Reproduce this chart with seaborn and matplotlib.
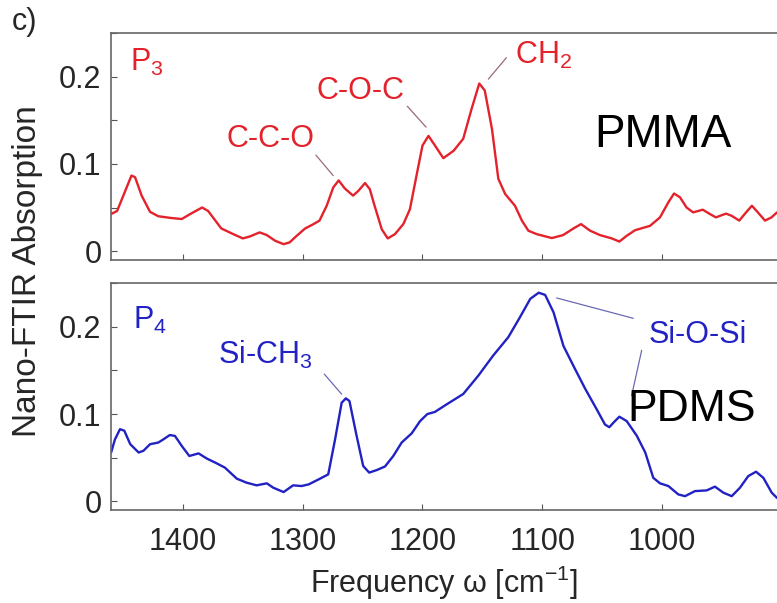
import matplotlib
matplotlib.use("Agg")
import matplotlib.pyplot as plt
import seaborn as sns
from matplotlib.ticker import MultipleLocator, FixedLocator

# PMMA spectrum (top panel, P3)
pmma_freq = [1460, 1455, 1443, 1440, 1434.5, 1427.5, 1420.6, 1410, 1401, 1394, 1384, 1379,
             1368, 1358, 1350, 1344, 1336, 1330, 1323, 1316, 1311, 1305, 1298, 1291, 1286,
             1280, 1274.5, 1270, 1265, 1258, 1253.6, 1248, 1244, 1240, 1234, 1229, 1223,
             1216, 1210.5, 1205, 1200, 1195, 1189.6, 1182.6, 1174, 1166, 1159, 1152.6, 1148,
             1142, 1136.7, 1131, 1122.8, 1117, 1111.6, 1104.6, 1092, 1082.6, 1074, 1067.6,
             1060, 1051.8, 1042, 1035.6, 1029.5, 1022.5, 1010, 1001.7, 994.7, 990, 985,
             979.5, 974, 966, 960, 955, 946.6, 942, 935.5, 931, 925, 921, 914, 908.6, 904]
pmma_abs = [0.0425, 0.046, 0.0866, 0.0847, 0.0636, 0.045, 0.040, 0.038, 0.0368, 0.0425, 0.050, 0.046,
            0.026, 0.0195, 0.0146, 0.0169, 0.0215, 0.0184, 0.0119, 0.008, 0.010, 0.0176, 0.026, 0.031, 0.035,
            0.052, 0.073, 0.081, 0.072, 0.0636, 0.069, 0.078, 0.071, 0.052, 0.025, 0.0146, 0.0195,
            0.031, 0.048, 0.0866, 0.121, 0.132, 0.121, 0.1065, 0.115, 0.1287, 0.163, 0.192, 0.184,
            0.140, 0.083, 0.0655, 0.052, 0.035, 0.0234, 0.0195, 0.015, 0.0184, 0.026, 0.031,
            0.0234, 0.0184, 0.0146, 0.011, 0.0176, 0.024, 0.029, 0.0387, 0.056, 0.066, 0.0617,
            0.050, 0.0444, 0.0475, 0.0425, 0.0387, 0.043, 0.0406, 0.035, 0.0425, 0.052, 0.046, 0.035, 0.0387, 0.0444]

# PDMS spectrum (bottom panel, P4)
pdms_freq = [1460, 1456.8, 1452.6, 1449, 1444, 1437, 1433, 1427.5, 1420.6, 1416.4, 1411, 1406.7,
             1401, 1394.7, 1387, 1380, 1373, 1365, 1355, 1347, 1338.5, 1330, 1324.6, 1316, 1308,
             1301, 1295, 1285.6, 1278.7, 1273, 1267.5, 1264, 1261, 1255, 1249.5, 1244.5, 1238,
             1231.3, 1224.4, 1217.4, 1209, 1202, 1196, 1189.6, 1180, 1166, 1153.4, 1141, 1128.4,
             1118.6, 1110, 1103, 1097.6, 1090.6, 1082.3, 1072.6, 1064, 1054.6, 1047.6, 1044, 1040,
             1035.6, 1029.5, 1021, 1014, 1007.3, 1001.7, 994.7, 986.4, 980.8, 972.5, 962.7, 955.8,
             948.8, 941.8, 934.9, 928, 921.5, 915.4, 908.4, 904]
pdms_abs = [0.056, 0.071, 0.0827, 0.081, 0.0655, 0.056, 0.058, 0.0655, 0.0674, 0.071, 0.076, 0.075,
            0.0635, 0.052, 0.055, 0.049, 0.0444, 0.0387, 0.026, 0.0215, 0.0184, 0.0207, 0.0157, 0.0107, 0.0184,
            0.0176, 0.0195, 0.026, 0.031, 0.071, 0.113, 0.118, 0.115, 0.075, 0.0405, 0.033, 0.036,
            0.040, 0.052, 0.0674, 0.078, 0.092, 0.100, 0.1025, 0.111, 0.123, 0.144, 0.167, 0.188,
            0.211, 0.232, 0.239, 0.2365, 0.2166, 0.178, 0.1515, 0.1286, 0.1056, 0.088, 0.085, 0.091,
            0.097, 0.092, 0.075, 0.056, 0.027, 0.0207, 0.0176, 0.008, 0.006, 0.0118, 0.0126, 0.0169,
            0.010, 0.006, 0.0157, 0.029, 0.034, 0.027, 0.010, 0.004]

x_ticks = [1400, 1300, 1200, 1100, 1000]
y_ticks = [0, 0.1, 0.2]
y_tick_labels = ["0", "0.1", "0.2"]

red = "#e3222b"
blue = "#2222c4"

sns.set_style("white")
plt.rcParams["font.family"] = ["Liberation Sans", "DejaVu Sans"]
plt.rcParams["mathtext.default"] = "regular"

fig = plt.figure(figsize=(7.77, 6.03), dpi=100)
ax1 = fig.add_axes([0.143, 0.569, 0.857, 0.3765])
ax2 = fig.add_axes([0.143, 0.154, 0.857, 0.3765])

sns.lineplot(x=pmma_freq, y=pmma_abs, ax=ax1, color=red, lw=1.7, sort=False, estimator=None)
sns.lineplot(x=pdms_freq, y=pdms_abs, ax=ax2, color=blue, lw=1.7, sort=False, estimator=None)

for ax in (ax1, ax2):
    ax.set_xlim(1460, 904)
    ax.set_ylim(-0.01, 0.25)
    ax.xaxis.set_major_locator(FixedLocator(x_ticks))
    ax.yaxis.set_major_locator(FixedLocator(y_ticks))
    ax.yaxis.set_minor_locator(MultipleLocator(0.05))
    ax.set_yticklabels(y_tick_labels)
    ax.tick_params(which="both", direction="in", length=4, width=0.8, color="#555555",
                   labelsize=22, left=True, bottom=True)
    ax.tick_params(axis="y", pad=7)
    ax.tick_params(axis="x", pad=12)
    for s in ("left", "bottom", "top"):
        ax.spines[s].set_color("#666666")
        ax.spines[s].set_linewidth(1.2)
    ax.spines["right"].set_visible(False)
    ax.set_xlabel("")
    ax.set_ylabel("")

ax1.tick_params(axis="x", labelbottom=False)

# top panel labels
lc1 = "#9a6a78"
ax1.text(1444, 0.207, "P$_3$", color=red, fontsize=22, ha="left", va="baseline")
ax1.text(1327, 0.119, "C-C-O", color=red, fontsize=22, ha="center", va="baseline")
ax1.plot([1289, 1274.6], [0.110, 0.0866], color=lc1, lw=0.9)
ax1.text(1251.6, 0.1747, "C-O-C", color=red, fontsize=22, ha="center", va="baseline")
ax1.plot([1212.7, 1197], [0.166, 0.142], color=lc1, lw=0.9)
ax1.text(1122.6, 0.215, "CH$_2$", color=red, fontsize=22, ha="left", va="baseline")
ax1.plot([1130, 1145], [0.2215, 0.197], color=lc1, lw=0.9)
ax1.text(999.5, 0.119, "PMMA", color="black", fontsize=33, ha="center", va="baseline")

# bottom panel labels
lc2 = "#6a6ab4"
ax2.text(1441.6, 0.1975, "P$_4$", color=blue, fontsize=22, ha="left", va="baseline")
ax2.text(1370.6, 0.157, "Si-CH$_3$", color=blue, fontsize=22, ha="left", va="baseline")
ax2.plot([1282, 1267.5], [0.1458, 0.1228], color=lc2, lw=0.9)
ax2.text(1011.6, 0.181, "Si-O-Si", color=blue, fontsize=22, ha="left", va="baseline")
ax2.plot([1088, 1024], [0.233, 0.2097], color=lc2, lw=0.9)
ax2.plot([1017, 1025.4], [0.173, 0.121], color=lc2, lw=0.9)
ax2.text(975.3, 0.092, "PDMS", color="black", fontsize=32, ha="center", va="baseline")

ax2.set_xlabel("Frequency ω [cm$^{-1}$]", fontsize=22, labelpad=5)
fig.text(0.036, 0.55, "Nano-FTIR Absorption", rotation=90, fontsize=24, ha="center", va="center")
fig.text(0.015, 0.988, "c)", fontsize=22, ha="left", va="top")

fig.savefig("out.png", dpi=100)
